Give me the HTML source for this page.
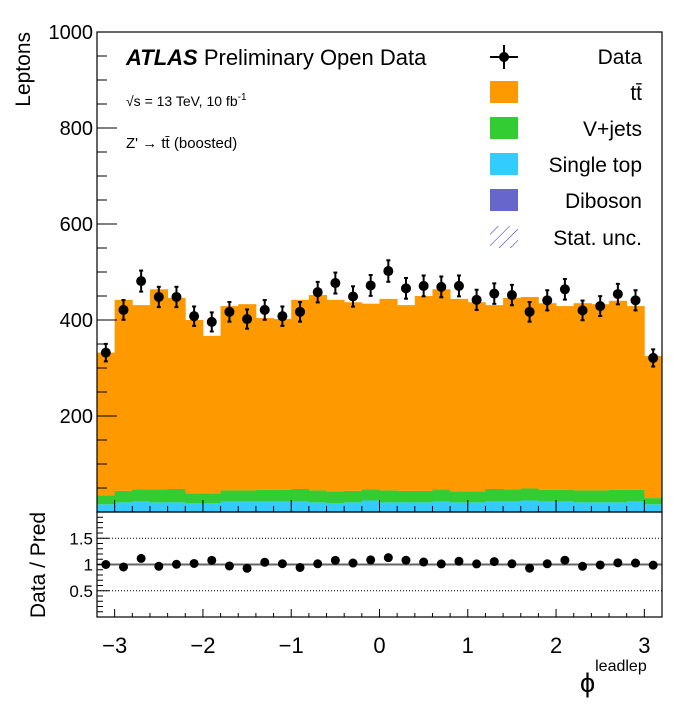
<!DOCTYPE html>
<html><head><meta charset="utf-8"><style>
html,body{margin:0;padding:0;background:#fff;}
svg{display:block;font-family:"Liberation Sans",sans-serif;}
</style></head><body>
<svg id="c" width="696" height="722" xmlns="http://www.w3.org/2000/svg">
<defs><pattern id="hatch" width="8" height="8" patternUnits="userSpaceOnUse" patternTransform="rotate(45)"><line x1="0" y1="0" x2="0" y2="8" stroke="#2222cc" stroke-width="1"/></pattern></defs>
<g id="stack"></g>
<g id="ratio"></g>
<g id="axes"></g>
<g id="data"></g>
<text x="30" y="32" font-size="21" text-anchor="end" transform="rotate(-90 30 32)">Leptons</text>
<text x="45" y="565" font-size="21" text-anchor="middle" transform="rotate(-90 45 565)">Data / Pred</text>
<text x="580" y="692" font-size="27">ϕ<tspan dy="-21" font-size="16">leadlep</tspan></text>
<text x="126" y="65" font-size="22"><tspan font-weight="bold" font-style="italic">ATLAS</tspan> Preliminary Open Data</text>
<text x="126" y="106" font-size="14">√s = 13 TeV, 10 fb<tspan dy="-6" font-size="10">-1</tspan></text>
<text x="126" y="148" font-size="15">Z' → tt̄ (boosted)</text>
<g id="legend" font-size="21" text-anchor="end">
 <g><line x1="490" y1="57" x2="518" y2="57" stroke="#000" stroke-width="2"/><line x1="504" y1="45" x2="504" y2="69" stroke="#000" stroke-width="2"/><circle cx="504" cy="57" r="5"/><text x="642" y="64">Data</text></g>
 <g><rect x="490" y="81" width="28" height="22" fill="#ff9900"/><text x="642" y="100">tt̄</text></g>
 <g><rect x="490" y="117" width="28" height="22" fill="#33cc33"/><text x="642" y="136">V+jets</text></g>
 <g><rect x="490" y="153" width="28" height="22" fill="#33ccff"/><text x="642" y="172">Single top</text></g>
 <g><rect x="490" y="189" width="28" height="22" fill="#6666cc"/><text x="642" y="208">Diboson</text></g>
 <g><rect x="490" y="226" width="28" height="22" fill="url(#hatch)"/><text x="642" y="245">Stat. unc.</text></g>
</g>
</svg>
<script>
const total = [332,442,431,464,446,400,367,429,433,404,402,442,452,442,437,434,444,431,450,464,444,437,431,446,448,435,429,435,433,440,429,325];
const singletop = [15,19,21,19,19,17,17,21,21,21,21,21,19,17,19,23,19,19,19,21,19,19,21,21,23,21,21,19,19,19,21,15];
const vjets = [19,24,25,27,28,21,21,23,23,24,24,26,25,25,24,23,25,24,24,25,23,23,26,25,25,24,24,25,25,26,24,13];
const diboson = [1,1,1,1,1,1,1,1,1,1,1,1,1,1,1,1,1,1,1,1,1,1,1,1,1,1,1,1,1,1,1,1];
const dataVals = [332,421,481,448,448,408,396,417,402,421,408,417,458,477,449,472,502,466,471,469,471,442,455,452,417,441,464,420,429,454,441,321];
const xTicks = [-3,-2,-1,0,1,2,3];
const yTicks = [200,400,600,800,1000];
const rTicks = [0.5,1,1.5];

const NS='http://www.w3.org/2000/svg';
const X0=97,X1=662,XMIN=-3.2,XMAX=3.2;
const sx=v=>X0+(v-XMIN)/(XMAX-XMIN)*(X1-X0);
const YT=32,YB=512,sy=v=>YB-(v/1000)*(YB-YT);
const RT=512,RB=617,ry=v=>RB-(v/2)*(RB-RT);
function mk(tag,attrs,parent){const e=document.createElementNS(NS,tag);for(const k in attrs)e.setAttribute(k,attrs[k]);parent.appendChild(e);return e;}
const stack=document.getElementById('stack'),axes=document.getElementById('axes'),dg=document.getElementById('data'),rg=document.getElementById('ratio');
const nb=total.length,bw=(XMAX-XMIN)/nb;
[0.5,1.5].forEach(v=>mk('line',{x1:X0,x2:X1,y1:ry(v),y2:ry(v),stroke:'#000','stroke-width':1,'stroke-dasharray':'1,2'},rg));
mk('line',{x1:X0,x2:X1,y1:ry(1),y2:ry(1),stroke:'#666','stroke-width':2},rg);
for(let i=0;i<nb;i++){
  const xa=sx(XMIN+i*bw),xb=sx(XMIN+(i+1)*bw);
  const layers=[[0,diboson[i],'#6666cc'],[diboson[i],diboson[i]+singletop[i],'#33ccff'],[diboson[i]+singletop[i],diboson[i]+singletop[i]+vjets[i],'#33cc33'],[diboson[i]+singletop[i]+vjets[i],total[i],'#ff9900']];
  layers.forEach(l=>{const r=mk('rect',{x:xa,y:sy(l[1]),width:xb-xa+0.4,height:sy(l[0])-sy(l[1]),fill:l[2]},stack);
    
    });
  const xc=(xa+xb)/2,d=dataVals[i],e=Math.sqrt(d);
  const g=mk('g',{},dg);
  
  
  mk('line',{x1:xc,x2:xc,y1:sy(d+e),y2:sy(d-e),stroke:'#000','stroke-width':2},g);
  mk('line',{x1:xc-2,x2:xc+2,y1:sy(d+e),y2:sy(d+e),stroke:'#000','stroke-width':2},g);
  mk('line',{x1:xc-2,x2:xc+2,y1:sy(d-e),y2:sy(d-e),stroke:'#000','stroke-width':2},g);
  mk('circle',{cx:xc,cy:sy(d),r:5,fill:'#000'},g);
  const rv=d/total[i];
  const rc=mk('circle',{cx:xc,cy:ry(rv),r:4.5,fill:'#000'},rg);
  
  
}
mk('rect',{x:X0,y:YT,width:X1-X0,height:YB-YT,fill:'none',stroke:'#000','stroke-width':1.2},axes);
mk('rect',{x:X0,y:RT,width:X1-X0,height:RB-RT,fill:'none',stroke:'#000','stroke-width':1.2},axes);
for(let v=50;v<=1000;v+=50){const maj=v%200===0;mk('line',{x1:X0,x2:X0+(maj?20:10),y1:sy(v),y2:sy(v),stroke:'#000'},axes);}
yTicks.forEach(v=>{const t=mk('text',{x:X0-4,y:sy(v)+7,'font-size':20,'text-anchor':'end'},axes);t.textContent=v;
  
  });
for(let k=-16;k<=16;k++){const v=k*0.2;if(v<XMIN-1e-9||v>XMAX+1e-9)continue;const maj=Math.abs(v-Math.round(v))<1e-6;const L=maj?12:6;
  mk('line',{x1:sx(v),x2:sx(v),y1:YB,y2:YB-L,stroke:'#000'},axes);
  mk('line',{x1:sx(v),x2:sx(v),y1:RB,y2:RB-(maj?8:4),stroke:'#000'},axes);}
xTicks.forEach(v=>{const t=mk('text',{x:sx(v),y:653,'font-size':22,'text-anchor':'middle'},axes);t.textContent=(v<0?'\u2212'+(-v):v);
  
  });
for(let k=1;k<20;k++){const v=k*0.1;const maj=k%5===0;mk('line',{x1:X0,x2:X0+(maj?12:6),y1:ry(v),y2:ry(v),stroke:'#000'},axes);}
rTicks.forEach(v=>{const t=mk('text',{x:X0-4,y:ry(v)+6,'font-size':17,'text-anchor':'end'},axes);t.textContent=v;
  
  });
</script>
</body></html>
